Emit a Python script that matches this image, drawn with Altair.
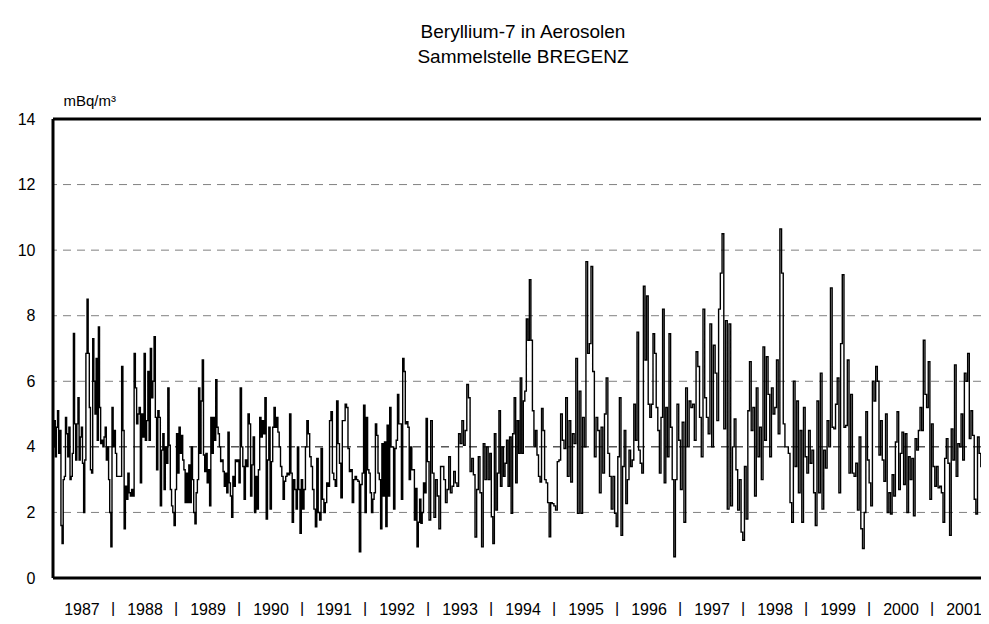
import altair as alt
import pandas as pd

FONT = "Liberation Sans"

years = list(range(1987, 2002))

# weekly record, read block by block (15 equal blocks) off the reference
y1987 = [4.0, 4.8, 3.7, 4.6, 5.1, 3.8, 4.5, 1.6, 1.05, 3.0, 3.1, 4.9, 4.4, 3.7, 4.6, 3.0, 3.1, 3.8, 7.46, 4.7, 3.6, 4.7, 5.5, 3.6, 4.3, 4.6, 3.5, 2.0, 3.6, 6.85, 8.5, 6.85, 5.2, 3.3, 3.2, 7.3, 6.0, 5.0, 6.7, 4.2, 7.66, 5.2, 4.1, 4.2, 4.0, 4.3, 4.6, 3.6, 4.0, 3.0, 2.0, 0.95, 5.2, 4.0, 4.5]
y1988 = [3.8, 3.1, 3.1, 3.1, 3.1, 6.45, 4.5, 1.5, 2.8, 2.4, 3.2, 2.6, 2.5, 2.7, 2.5, 6.85, 5.8, 4.7, 5.0, 5.2, 2.9, 5.0, 4.3, 6.85, 4.2, 4.8, 6.3, 4.2, 7.0, 5.5, 6.0, 7.36, 4.9, 3.3, 5.1, 4.9, 2.2, 3.9, 4.4, 2.7, 4.0, 3.5, 5.8, 4.05, 2.7, 2.2, 2.0, 1.6, 2.7, 4.4]
y1989 = [3.2, 4.6, 3.8, 4.35, 3.6, 3.3, 2.3, 3.2, 2.3, 3.45, 2.3, 4.0, 3.0, 2.0, 1.65, 2.6, 3.0, 5.8, 3.8, 5.4, 6.65, 3.75, 3.25, 3.8, 2.9, 3.3, 2.2, 4.9, 3.8, 4.9, 4.2, 6.05, 4.6, 4.4, 4.0, 3.55, 3.6, 3.25, 2.8, 3.2, 2.6, 4.45, 2.9, 2.5, 1.85, 3.1, 2.8, 3.6, 3.55, 3.6, 2.9]
y1990 = [5.8, 4.0, 3.4, 2.4, 3.6, 3.4, 5.0, 4.7, 2.5, 3.45, 4.3, 2.0, 3.1, 2.1, 3.3, 4.9, 4.3, 4.8, 4.4, 5.5, 1.8, 3.6, 4.6, 2.1, 3.55, 4.6, 5.2, 4.6, 4.9, 4.45, 4.0, 3.4, 3.1, 2.4, 2.95, 3.1, 3.2, 3.15, 5.0, 3.2, 1.7, 3.0, 2.7, 2.1, 4.0, 2.7, 1.36, 3.0]
y1991 = [2.1, 2.7, 4.0, 4.8, 4.4, 3.7, 3.4, 2.7, 2.1, 1.56, 3.65, 2.0, 1.77, 3.95, 2.4, 2.0, 2.3, 2.9, 2.8, 4.8, 5.07, 3.2, 3.0, 2.8, 5.4, 4.1, 3.5, 2.45, 4.8, 4.8, 5.3, 5.2, 3.95, 3.25, 3.3, 2.3, 3.0, 3.1, 3.0, 2.95, 0.8, 2.85, 3.2, 5.27]
y1992 = [2.0, 4.9, 3.3, 3.2, 2.6, 2.0, 2.4, 2.6, 4.7, 4.35, 3.2, 3.0, 1.5, 4.1, 2.5, 4.15, 1.57, 4.66, 2.5, 5.2, 4.0, 4.0, 2.1, 3.95, 4.2, 5.6, 4.7, 4.7, 2.4, 6.7, 6.3, 4.7, 4.77, 4.6, 3.0, 4.0, 3.3, 3.3, 1.77, 2.73, 0.95, 1.7, 2.4, 1.67, 2.0, 2.9, 2.6, 4.87]
y1993 = [3.55, 1.77, 4.8, 3.2, 1.85, 3.0, 2.5, 1.5, 3.4, 3.4, 3.0, 2.3, 2.7, 3.7, 2.6, 2.8, 3.25, 2.9, 2.8, 4.4, 4.1, 4.8, 4.05, 4.5, 5.9, 5.5, 3.25, 3.65, 3.15, 1.25, 2.7, 3.7, 2.6, 0.95, 4.1, 3.0, 4.0, 3.0]
y1994 = [3.8, 1.87, 1.05, 4.4, 2.07, 3.2, 5.1, 2.8, 4.0, 3.1, 3.5, 4.2, 2.8, 4.3, 1.97, 4.4, 5.5, 2.9, 4.8, 3.8, 6.1, 3.8, 5.4, 5.7, 7.9, 7.25, 9.1, 7.25, 5.1, 4.0, 4.5, 3.75, 3.1, 2.93, 5.17, 4.5, 3.0, 2.9, 2.3, 1.26, 2.3]
y1995 = [2.27, 2.2, 2.07, 3.55, 3.6, 5.0, 4.2, 3.95, 5.5, 3.1, 4.8, 2.93, 4.4, 4.1, 6.7, 1.97, 5.7, 1.97, 4.9, 4.0, 9.65, 6.85, 7.15, 9.5, 6.3, 3.7, 4.9, 4.5, 2.6, 4.6, 3.2, 5.0, 6.1, 3.8, 3.1, 2.1, 3.1]
y1996 = [1.97, 1.57, 3.7, 5.5, 1.3, 3.4, 4.5, 2.27, 3.0, 3.9, 3.4, 3.6, 5.3, 4.2, 7.5, 3.9, 3.5, 3.2, 8.9, 6.65, 8.6, 5.3, 4.9, 5.3, 7.45, 6.85, 5.2, 4.5, 3.2, 4.9, 8.2, 2.9, 5.2, 3.7, 7.45, 4.6, 3.0, 0.65, 3.0]
y1997 = [5.3, 4.2, 2.7, 4.75, 1.7, 5.8, 4.0, 5.4, 5.2, 5.3, 4.2, 6.9, 6.45, 4.9, 3.7, 8.2, 5.5, 4.9, 4.4, 7.75, 4.0, 7.1, 6.25, 4.8, 8.2, 9.3, 10.5, 4.55, 7.85, 2.1, 7.75, 2.2, 4.0, 4.85, 3.3, 2.07]
y1998 = [3.0, 1.4, 1.15, 3.4, 1.8, 5.1, 6.6, 4.5, 5.2, 2.5, 5.8, 3.7, 4.6, 3.0, 7.05, 4.2, 6.75, 5.6, 3.7, 5.8, 5.0, 5.2, 6.65, 4.4, 10.65, 9.3, 4.7, 4.0, 4.0, 3.8, 2.3, 1.7, 6.0, 3.4, 5.4, 2.6, 4.5]
y1999 = [1.7, 5.2, 3.7, 3.2, 4.5, 3.5, 3.9, 2.6, 1.6, 5.4, 2.6, 6.25, 2.1, 3.9, 3.35, 4.8, 4.0, 8.85, 4.6, 4.55, 5.3, 6.1, 2.6, 7.15, 9.25, 4.6, 4.65, 6.65, 3.2, 5.6, 3.2, 3.1, 3.5, 2.07, 4.3, 1.5, 0.9]
y2000 = [2.0, 5.07, 3.6, 2.9, 2.2, 6.0, 5.4, 6.45, 6.0, 3.75, 4.8, 3.6, 2.95, 5.0, 2.0, 2.6, 1.95, 3.15, 2.5, 4.15, 5.07, 2.7, 3.8, 4.45, 2.85, 4.4, 2.0, 3.7, 3.0, 3.65, 1.9, 4.25, 3.9, 4.5, 5.2, 4.5, 7.25, 5.6]
y2001 = [5.2, 6.6, 2.4, 4.7, 3.4, 2.8, 3.4, 2.75, 2.8, 2.6, 1.7, 3.65, 4.25, 3.5, 1.3, 4.55, 3.6, 6.5, 3.1, 4.1, 4.0, 5.0, 3.6, 6.25, 6.0, 6.85, 4.25, 5.1, 4.35, 2.4, 1.95, 4.3, 3.8, 3.4, 2.7, 1.9, 2.8, 1.47]

series = [y1987, y1988, y1989, y1990, y1991, y1992, y1993, y1994,
          y1995, y1996, y1997, y1998, y1999, y2000, y2001]

# time span of the record (decimal years) and visible window of the frame
record_start, record_end = 1987.048, 2001.905
view_start, view_end = 1987.048, 2001.778

grid_values = [2, 4, 6, 8, 10, 12]
y_ticks = [0, 2, 4, 6, 8, 10, 12, 14]

rows = []
nblk = len(series)
blk = (record_end - record_start) / nblk
for k, vals in enumerate(series):
    n = len(vals)
    for i, v in enumerate(vals):
        rows.append({"t": record_start + blk * (k + i / n), "v": v})
df = pd.DataFrame(rows)

W, H = 928, 459
xscale = alt.Scale(domain=[view_start, view_end], nice=False, zero=False)
yscale = alt.Scale(domain=[0, 14], nice=False)

y_axis = alt.Axis(
    values=y_ticks, ticks=False, domain=False, grid=False,
    labelFontSize=16, labelFont=FONT, labelColor="black", labelPadding=18,
    title="mBq/m³", titleAngle=0, titleAlign="left", titleBaseline="middle",
    titleX=10, titleY=-19, titleFontSize=15, titleFont=FONT,
    titleFontWeight="normal", titleColor="black")

x_axis = alt.Axis(
    values=[y + 0.5 for y in years], labelExpr="'' + floor(datum.value)",
    ticks=False, domain=False, grid=False, title=None,
    labelFontSize=16, labelFont=FONT, labelColor="black",
    labelPadding=23, labelOverlap=False, labelFlush=False)

grid = alt.Chart(pd.DataFrame({"g": grid_values})).mark_rule(
    strokeDash=[8, 6], strokeWidth=1
).encode(
    y=alt.Y("g:Q", scale=yscale, axis=y_axis),
    color=alt.condition("datum.g == 4", alt.value("#000000"), alt.value("#808080")),
)

line = alt.Chart(df).mark_line(
    interpolate="step-after", color="black", strokeWidth=1.4, clip=True
).encode(
    x=alt.X("t:Q", scale=xscale, axis=x_axis),
    y=alt.Y("v:Q", scale=yscale, axis=y_axis),
)

pipes = alt.Chart(pd.DataFrame({"b": years[1:], "s": ["|"] * (len(years) - 1)})).mark_text(
    baseline="top", fontSize=16, font=FONT, color="black"
).encode(
    x=alt.X("b:Q", scale=xscale, axis=x_axis),
    y=alt.value(H + 23),
    text="s:N",
)

top_rule = alt.Chart().mark_rule(color="black", strokeWidth=3).encode(
    y=alt.datum(14, scale=yscale, axis=y_axis))
bottom_rule = alt.Chart().mark_rule(color="black", strokeWidth=3).encode(
    y=alt.datum(0, scale=yscale, axis=y_axis))
left_rule = alt.Chart().mark_rule(color="black", strokeWidth=3).encode(
    x=alt.value(0), y=alt.value(0), y2=alt.value(H))

chart = alt.layer(grid, line, pipes, top_rule, bottom_rule, left_rule).properties(
    width=W, height=H,
    autosize="none",
    padding={"left": 45, "top": 111, "right": 0, "bottom": 38},
    title=alt.TitleParams(
        text=["Beryllium-7 in Aerosolen", "Sammelstelle BREGENZ"],
        fontSize=19, font=FONT, fontWeight="normal", color="black",
        anchor="middle", lineHeight=25, offset=26, dx=6),
).configure_view(stroke=None).configure(background="white")

chart.save("out.html", embed_options={"renderer": "svg", "actions": False})
